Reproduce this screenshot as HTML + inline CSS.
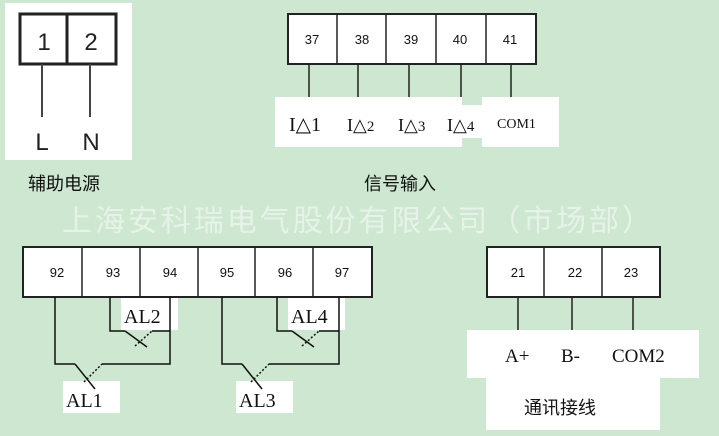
<!DOCTYPE html>
<html><head><meta charset="utf-8"><style>
html,body{margin:0;padding:0;}
body{width:719px;height:436px;background:#cde7d0;position:relative;overflow:hidden;}
svg{position:absolute;left:0;top:0;}
</style></head><body>
<svg width="719" height="436" viewBox="0 0 719 436" xmlns="http://www.w3.org/2000/svg">
<!-- power -->
<rect x="5" y="3" width="127" height="157" fill="#fff"/>
<rect x="20" y="14" width="96" height="50" fill="#fff" stroke="#222" stroke-width="3"/>
<line x1="67" y1="14" x2="67" y2="64" stroke="#222" stroke-width="3"/>
<g font-family="Liberation Sans, sans-serif" font-size="24" fill="#222" text-anchor="middle">
<text x="44" y="50">1</text><text x="91" y="50">2</text>
<text x="42" y="150">L</text><text x="91" y="150">N</text></g>
<line x1="42" y1="64" x2="42" y2="117" stroke="#444" stroke-width="2"/>
<line x1="90" y1="64" x2="90" y2="117" stroke="#444" stroke-width="2"/>
<text x="28" y="190" font-family="Liberation Sans, Noto Sans CJK SC, sans-serif" font-size="18" fill="#111">辅助电源</text>

<!-- signal -->
<rect x="275" y="97" width="187" height="50" fill="#fff"/>
<rect x="460" y="105" width="25" height="33" fill="#fff"/>
<rect x="482" y="97" width="77" height="50" fill="#fff"/>
<rect x="288" y="14" width="248" height="50" fill="#fff" stroke="#222" stroke-width="2"/>
<g stroke="#222" stroke-width="1.5">
<line x1="337" y1="14" x2="337" y2="64"/><line x1="386" y1="14" x2="386" y2="64"/>
<line x1="436" y1="14" x2="436" y2="64"/><line x1="486" y1="14" x2="486" y2="64"/>
<line x1="309" y1="64" x2="309" y2="97"/><line x1="358" y1="64" x2="358" y2="97"/>
<line x1="409" y1="64" x2="409" y2="97"/><line x1="461" y1="64" x2="461" y2="97"/>
<line x1="511" y1="64" x2="511" y2="97"/></g>
<g font-family="Liberation Sans, sans-serif" font-size="13" fill="#111" text-anchor="middle">
<text x="312" y="44">37</text><text x="362" y="44">38</text><text x="411" y="44">39</text><text x="460" y="44">40</text><text x="510" y="44">41</text></g>
<g font-family="Liberation Serif, serif" fill="#111">
<text x="289" y="131" font-size="20">I△1</text>
<text x="347" y="131" font-size="18">I△<tspan font-size="15">2</tspan></text>
<text x="398" y="131" font-size="18">I△<tspan font-size="15">3</tspan></text>
<text x="447" y="131" font-size="18">I△<tspan font-size="15">4</tspan></text>
<text x="497" y="128" font-size="14">COM1</text></g>
<text x="364" y="190" font-family="Liberation Sans, Noto Sans CJK SC, sans-serif" font-size="18" fill="#111">信号输入</text>

<!-- watermark -->
<text x="62" y="231" font-family="Liberation Sans, Noto Sans CJK SC, sans-serif" font-size="30" fill="#e6f3e8" textLength="590">上海安科瑞电气股份有限公司（市场部）</text>

<!-- alarm -->
<rect x="23" y="247" width="349" height="50" fill="#fff" stroke="#222" stroke-width="2"/>
<g stroke="#222" stroke-width="1.5">
<line x1="82" y1="247" x2="82" y2="297"/><line x1="140" y1="247" x2="140" y2="297"/>
<line x1="198" y1="247" x2="198" y2="297"/><line x1="255" y1="247" x2="255" y2="297"/>
<line x1="313" y1="247" x2="313" y2="297"/></g>
<g font-family="Liberation Sans, sans-serif" font-size="13" fill="#111" text-anchor="middle">
<text x="57" y="277">92</text><text x="113" y="277">93</text><text x="170" y="277">94</text>
<text x="227" y="277">95</text><text x="285" y="277">96</text><text x="342" y="277">97</text></g>
<rect x="121" y="298" width="57" height="32" fill="#fff"/>
<rect x="288" y="298" width="57" height="32" fill="#fff"/>
<rect x="63" y="381" width="57" height="32" fill="#fff"/>
<rect x="236" y="381" width="57" height="32" fill="#fff"/>
<g fill="none" stroke="#111" stroke-width="1.5">
<polyline points="55,297 55,364 75,364"/><line x1="75" y1="364" x2="95" y2="389"/>
<polyline points="102,364 170,364 170,297"/>
<polyline points="110,297 110,331 125,331"/><line x1="125" y1="331" x2="147" y2="347"/>
<polyline points="152,331 170,331"/>
<polyline points="222,297 222,364 242,364"/><line x1="242" y1="364" x2="262" y2="389"/>
<polyline points="269,364 339,364 339,297"/>
<polyline points="277,297 277,331 292,331"/><line x1="292" y1="331" x2="314" y2="347"/>
<polyline points="319,331 339,331"/></g>
<g stroke="#111" stroke-width="1.5" stroke-dasharray="2,2">
<line x1="84" y1="382" x2="102" y2="364"/><line x1="135" y1="346" x2="152" y2="331"/>
<line x1="251" y1="382" x2="269" y2="364"/><line x1="302" y1="346" x2="319" y2="331"/></g>
<g font-family="Liberation Serif, serif" font-size="20" fill="#111">
<text x="124" y="323">AL2</text><text x="291" y="323">AL4</text>
<text x="66" y="407">AL1</text><text x="239" y="407">AL3</text></g>

<!-- comm -->
<rect x="467" y="330" width="232" height="48" fill="#fff"/>
<rect x="486" y="378" width="174" height="52" fill="#fff"/>
<rect x="487" y="247" width="173" height="50" fill="#fff" stroke="#222" stroke-width="2"/>
<g stroke="#222" stroke-width="1.5">
<line x1="544" y1="247" x2="544" y2="297"/><line x1="602" y1="247" x2="602" y2="297"/>
<line x1="518" y1="297" x2="518" y2="330"/><line x1="572" y1="297" x2="572" y2="330"/>
<line x1="633" y1="297" x2="633" y2="330"/></g>
<g font-family="Liberation Sans, sans-serif" font-size="13" fill="#111" text-anchor="middle">
<text x="518" y="277">21</text><text x="575" y="277">22</text><text x="631" y="277">23</text></g>
<g font-family="Liberation Serif, serif" font-size="19" fill="#111">
<text x="505" y="362">A+</text><text x="561" y="362">B-</text><text x="612" y="362">COM2</text></g>
<text x="524" y="414" font-family="Liberation Sans, Noto Sans CJK SC, sans-serif" font-size="18" fill="#111">通讯接线</text>
</svg>
</body></html>
